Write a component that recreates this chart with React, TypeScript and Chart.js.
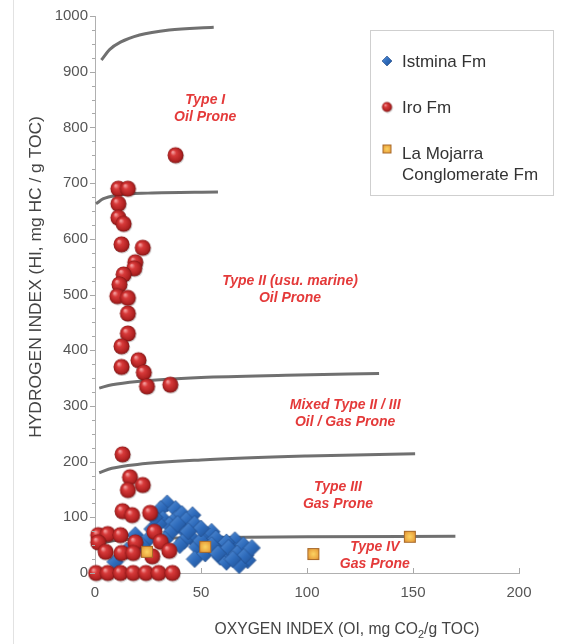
import React, { useEffect, useRef } from "react";
import { Chart, registerables } from "chart.js";
Chart.register(...registerables);

// ---- Data (OI = oxygen index, HI = hydrogen index) ----
const istminaOI = [34, 31, 38, 32, 38, 41, 46, 35, 41.5, 45, 53, 55, 48, 60, 66, 68, 72, 68, 47, 59, 62, 27, 36, 19, 9.5, 50, 57, 64, 70, 42, 30, 25, 52, 28, 43, 39, 47, 50, 44, 57, 62, 55, 63, 67, 58, 71, 74, 65, 22, 15, 33, 40];
const istminaHI = [125, 115, 115, 97, 97, 106, 104, 86, 79, 65, 68, 74, 47, 52, 59, 41, 23, 14, 25, 29, 20, 79, 74, 68, 20, 58, 42, 35, 50, 58, 88, 60, 35, 100, 95, 88, 88, 80, 75, 62, 55, 50, 45, 35, 35, 32, 45, 25, 50, 40, 60, 50];

const iroOI = [38, 11, 15.5, 11, 11, 13.5, 12.5, 22.5, 19, 18.5, 13.5, 11.5, 10.5, 15.5, 15.5, 15.5, 12.5, 12.5, 20.5, 23, 24.5, 35.5, 13, 16.5, 22.5, 15.5, 13, 17.5, 26, 1.5, 6, 12, 28, 1.5, 19, 31, 5, 12.5, 18, 27, 35, 0.5, 6, 12, 18, 24, 30, 36.5];
const iroHI = [750, 690, 690, 663, 638, 627, 590, 584, 558, 547, 536, 518, 497, 494, 466, 430, 407, 370, 382, 360, 335, 338, 213, 172, 158, 149, 111, 104, 108, 68, 70, 68, 74, 55, 55, 56, 38, 36, 36, 30, 40, 0, 0, 0, 0, 0, 0, 0];

const mojarraOI = [24.5, 52, 103, 148.5];
const mojarraHI = [38, 47, 34, 65];

// Kerogen type boundary curves
const typeIOI = [3, 7, 12, 21, 35, 56];
const typeIHI = [921, 940, 953, 966, 975, 980];
const typeIIOI = [0.5, 4, 10, 25, 58];
const typeIIHI = [663, 672, 678, 682, 684];
const mixedOI = [2, 8, 20, 50, 90, 134];
const mixedHI = [332, 338, 344, 351, 355, 358];
const typeIIIOI = [2, 8, 20, 50, 100, 151];
const typeIIIHI = [180, 188, 195, 203, 210, 214];
const typeIVOI = [1, 5, 15, 40, 100, 170];
const typeIVHI = [48, 55, 60, 63, 65, 66];

const xTicks = [0, 50, 100, 150, 200];
const yTicks = [0, 100, 200, 300, 400, 500, 600, 700, 800, 900, 1000];

const regionLabels = [
  { lines: ["Type I", "Oil Prone"], oi: 52, hi: 849 },
  { lines: ["Type II (usu. marine)", "Oil Prone"], oi: 92, hi: 524 },
  { lines: ["Mixed Type II / III", "Oil / Gas Prone"], oi: 118, hi: 302 },
  { lines: ["Type III", "Gas Prone"], oi: 114.6, hi: 154 },
  { lines: ["Type IV", "Gas Prone"], oi: 132, hi: 47 },
];

const legendNames = ["Istmina Fm", "Iro Fm", "La Mojarra", "Conglomerate Fm"];

const FONT = "'Liberation Sans', Arial, Helvetica, sans-serif";

function pts(xs: number[], ys: number[]) {
  return xs.map((x, i) => ({ x, y: ys[i] }));
}

function makeBall(d: number) {
  const s = d + 3;
  const c = document.createElement("canvas");
  c.width = s; c.height = s;
  const ctx = c.getContext("2d")!;
  const cx = s / 2, cy = s / 2, r = d / 2;
  ctx.fillStyle = "rgba(0,0,0,0.18)";
  ctx.beginPath(); ctx.arc(cx + 0.8, cy + 1, r, 0, Math.PI * 2); ctx.fill();
  const g = ctx.createRadialGradient(cx - r * 0.35, cy - r * 0.4, r * 0.08, cx, cy, r);
  g.addColorStop(0, "#f39a9a");
  g.addColorStop(0.3, "#d83a3a");
  g.addColorStop(0.8, "#b02222");
  g.addColorStop(1, "#801616");
  ctx.fillStyle = g;
  ctx.beginPath(); ctx.arc(cx, cy, r, 0, Math.PI * 2); ctx.fill();
  return c;
}

function makeDiamond(d: number) {
  const s = d + 2;
  const c = document.createElement("canvas");
  c.width = s; c.height = s;
  const ctx = c.getContext("2d")!;
  const cx = s / 2, cy = s / 2, r = d / 2;
  const g = ctx.createLinearGradient(cx - r, cy - r, cx + r, cy + r);
  g.addColorStop(0, "#5a93d8");
  g.addColorStop(0.5, "#2f6cbc");
  g.addColorStop(1, "#1d4e92");
  ctx.fillStyle = g;
  ctx.beginPath();
  ctx.moveTo(cx, cy - r); ctx.lineTo(cx + r, cy); ctx.lineTo(cx, cy + r); ctx.lineTo(cx - r, cy);
  ctx.closePath(); ctx.fill();
  ctx.strokeStyle = "rgba(30,70,130,0.6)"; ctx.lineWidth = 1; ctx.stroke();
  return c;
}

function makeSquare(d: number) {
  const s = d + 2;
  const c = document.createElement("canvas");
  c.width = s; c.height = s;
  const ctx = c.getContext("2d")!;
  const o = 1;
  const g = ctx.createRadialGradient(s / 2, s / 2, 0.5, s / 2, s / 2, d * 0.7);
  g.addColorStop(0, "#fbd060");
  g.addColorStop(0.6, "#eba640");
  g.addColorStop(1, "#c07228");
  ctx.fillStyle = g;
  ctx.fillRect(o, o, d, d);
  ctx.strokeStyle = "#a8692a"; ctx.lineWidth = 1;
  ctx.strokeRect(o + 0.5, o + 0.5, d - 1, d - 1);
  return c;
}

function fitFont(ctx: CanvasRenderingContext2D, text: string, target: number, weight = "") {
  ctx.font = `${weight} 20px ${FONT}`;
  const w = ctx.measureText(text).width;
  return (20 * target) / w;
}

export default function App() {
  const ref = useRef<HTMLCanvasElement>(null);

  useEffect(() => {
    document.body.style.margin = "0";
    const canvas = ref.current!;
    const ball = makeBall(16);
    const diamond = makeDiamond(17);
    const square = makeSquare(12);
    const ballS = makeBall(10);
    const diamondS = makeDiamond(10);
    const squareS = makeSquare(9);

    const curveStyle = {
      type: "line" as const,
      showLine: true,
      borderColor: "#707070",
      borderWidth: 3,
      pointRadius: 0,
      fill: false,
      cubicInterpolationMode: "monotone" as const,
      clip: false as const,
    };

    const overlay = {
      id: "overlay",
      afterDraw(chart: any) {
        const ctx: CanvasRenderingContext2D = chart.ctx;
        const xs = chart.scales.x, ys = chart.scales.y;
        const area = chart.chartArea;
        ctx.save();
        // faint frame line at left
        ctx.strokeStyle = "#e2e2e2"; ctx.lineWidth = 1;
        ctx.beginPath(); ctx.moveTo(13.5, 0); ctx.lineTo(13.5, 644); ctx.stroke();

        // axis ticks
        ctx.strokeStyle = "#a8a8a8"; ctx.lineWidth = 1;
        for (let v = 0; v <= 1000; v += 25) {
          const y = Math.round(ys.getPixelForValue(v)) + 0.5;
          const len = v % 100 === 0 ? 5 : 3;
          ctx.beginPath(); ctx.moveTo(area.left - len, y); ctx.lineTo(area.left, y); ctx.stroke();
        }
        for (const v of xTicks) {
          if (v === 0) continue;
          const x = Math.round(xs.getPixelForValue(v)) + 0.5;
          ctx.beginPath(); ctx.moveTo(x, area.bottom); ctx.lineTo(x, area.bottom - 5); ctx.stroke();
        }

        // region labels
        ctx.fillStyle = "rgb(228,58,58)";
        ctx.font = `italic bold 14px ${FONT}`;
        ctx.textAlign = "center"; ctx.textBaseline = "middle";
        for (const l of regionLabels) {
          const x = xs.getPixelForValue(l.oi);
          const y = ys.getPixelForValue(l.hi);
          l.lines.forEach((t, i) => ctx.fillText(t, x, y + i * 17));
        }

        // legend
        const lx = 370.5, ly = 30.5, lw = 183, lh = 165;
        ctx.fillStyle = "#ffffff"; ctx.fillRect(lx, ly, lw, lh);
        ctx.strokeStyle = "#cfcfcf"; ctx.lineWidth = 1; ctx.strokeRect(lx, ly, lw, lh);
        ctx.drawImage(diamondS, 387 - diamondS.width / 2, 61 - diamondS.height / 2);
        ctx.drawImage(ballS, 387 - ballS.width / 2, 107 - ballS.height / 2);
        ctx.drawImage(squareS, 387 - squareS.width / 2, 149 - squareS.height / 2);
        ctx.fillStyle = "#333333";
        ctx.font = `17px ${FONT}`;
        ctx.textAlign = "left"; ctx.textBaseline = "middle";
        ctx.fillText(legendNames[0], 402, 62);
        ctx.fillText(legendNames[1], 402, 108);
        ctx.fillText(legendNames[2], 402, 154);
        ctx.fillText(legendNames[3], 402, 175);

        // y axis title
        const yt = "HYDROGEN INDEX (HI, mg HC / g TOC)";
        const ySize = fitFont(ctx, yt, 322);
        ctx.save();
        ctx.translate(36, 277);
        ctx.rotate(-Math.PI / 2);
        ctx.font = `${ySize}px ${FONT}`;
        ctx.fillStyle = "#444444";
        ctx.textAlign = "center"; ctx.textBaseline = "middle";
        ctx.fillText(yt, 0, 0);
        ctx.restore();

        // x axis title with subscript
        const p1 = "OXYGEN INDEX (OI, mg CO", p2 = "2", p3 = "/g TOC)";
        const xSize = fitFont(ctx, p1 + p3, 259);
        ctx.fillStyle = "#444444";
        ctx.textBaseline = "alphabetic"; ctx.textAlign = "left";
        ctx.font = `${xSize}px ${FONT}`;
        const w1 = ctx.measureText(p1).width, w3 = ctx.measureText(p3).width;
        ctx.font = `${xSize * 0.7}px ${FONT}`;
        const w2 = ctx.measureText(p2).width;
        let x0 = 347 - (w1 + w2 + w3) / 2;
        const base = 634;
        ctx.font = `${xSize}px ${FONT}`;
        ctx.fillText(p1, x0, base);
        ctx.font = `${xSize * 0.7}px ${FONT}`;
        ctx.fillText(p2, x0 + w1, base + 4);
        ctx.font = `${xSize}px ${FONT}`;
        ctx.fillText(p3, x0 + w1 + w2, base);
        ctx.restore();
      },
    };

    const chart = new Chart(canvas, {
      type: "scatter",
      data: {
        datasets: [
          { label: "La Mojarra Conglomerate Fm", data: pts(mojarraOI, mojarraHI), pointStyle: square as any, pointRadius: 6, clip: false as any },
          { label: "Iro Fm", data: pts(iroOI, iroHI), pointStyle: ball as any, pointRadius: 8, clip: false as any },
          { label: "Istmina Fm", data: pts(istminaOI, istminaHI), pointStyle: diamond as any, pointRadius: 8, clip: false as any },
          { label: "Type I", data: pts(typeIOI, typeIHI), ...curveStyle } as any,
          { label: "Type II", data: pts(typeIIOI, typeIIHI), ...curveStyle } as any,
          { label: "Mixed", data: pts(mixedOI, mixedHI), ...curveStyle } as any,
          { label: "Type III", data: pts(typeIIIOI, typeIIIHI), ...curveStyle } as any,
          { label: "Type IV", data: pts(typeIVOI, typeIVHI), ...curveStyle } as any,
        ],
      },
      options: {
        responsive: false,
        animation: false,
        devicePixelRatio: 1,
        layout: { padding: { top: 16, right: 42, left: 0, bottom: 0 } },
        plugins: { legend: { display: false }, tooltip: { enabled: false } },
        scales: {
          x: {
            type: "linear",
            min: 0, max: 200,
            afterFit: (s: any) => { s.height = 71; },
            afterBuildTicks: (s: any) => { s.ticks = xTicks.map((v) => ({ value: v })); },
            grid: { display: false, drawTicks: false },
            border: { display: true, color: "#b0b0b0", width: 1 },
            ticks: { padding: 11, color: "#555555", font: { family: FONT, size: 15 }, autoSkip: false, maxRotation: 0, callback: (v: any) => String(v) },
          },
          y: {
            type: "linear",
            min: 0, max: 1000,
            afterFit: (s: any) => { s.width = 95; },
            afterBuildTicks: (s: any) => { s.ticks = yTicks.map((v) => ({ value: v })); },
            grid: { display: false, drawTicks: false },
            border: { display: true, color: "#b0b0b0", width: 1 },
            ticks: { padding: 7, color: "#555555", font: { family: FONT, size: 15 }, autoSkip: false, callback: (v: any) => String(v) },
          },
        },
      },
      plugins: [overlay],
    } as any);

    return () => chart.destroy();
  }, []);

  return (
    <div style={{ width: 561, height: 644, background: "#ffffff" }}>
      <canvas ref={ref} width={561} height={644} style={{ display: "block", width: 561, height: 644 }} />
    </div>
  );
}
